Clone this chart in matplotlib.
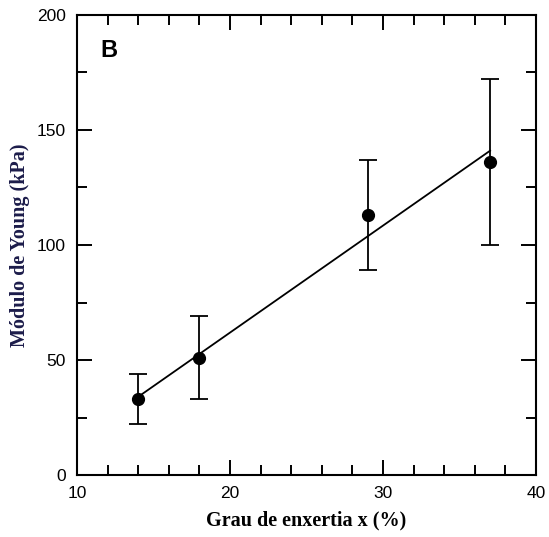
import numpy as np
import matplotlib
matplotlib.use('Agg')
import matplotlib.pyplot as plt
from matplotlib.ticker import MultipleLocator

# data
grau = [14, 18, 29, 37]
modulo = [33, 51, 113, 136]
err_low = [11, 18, 24, 36]
err_high = [11, 18, 24, 36]
fit_x = [14, 37]
fit_y = [34, 141]

plt.rcParams['font.family'] = ['Liberation Sans', 'DejaVu Sans']

fig = plt.figure(figsize=(5.49, 5.37), dpi=100)
ax = fig.add_axes([77/549, 62/537, 459/549, 460/537])

ax.errorbar(grau, modulo, yerr=[err_low, err_high], fmt='o', color='k',
            markersize=8.5, elinewidth=1.3, capsize=6.5, capthick=1.3, zorder=3)
ax.plot(fit_x, fit_y, 'k-', linewidth=1.3)

ax.set_xlim(10, 40)
ax.set_ylim(0, 200)
ax.xaxis.set_major_locator(MultipleLocator(10))
ax.xaxis.set_minor_locator(MultipleLocator(2))
ax.yaxis.set_major_locator(MultipleLocator(50))
ax.yaxis.set_minor_locator(MultipleLocator(25))
ax.tick_params(which='both', direction='in', top=True, right=True,
               width=1.4, labelsize=12.5)
ax.tick_params(which='major', length=11, pad=8)
ax.tick_params(which='minor', length=7)
for s in ax.spines.values():
    s.set_linewidth(1.5)

ax.text(0.05, 0.922, 'B', transform=ax.transAxes, fontsize=17,
        fontweight='bold', va='center', ha='left')

ax.set_xlabel('Grau de enxertia x (%)', family='Liberation Serif',
              fontweight='bold', fontsize=14.5, labelpad=7)
ax.set_ylabel('Módulo de Young (kPa)', family='Liberation Serif',
              fontweight='bold', fontsize=14.5, color='#1c1c4a', labelpad=5)

plt.savefig('out.png', dpi=100)
